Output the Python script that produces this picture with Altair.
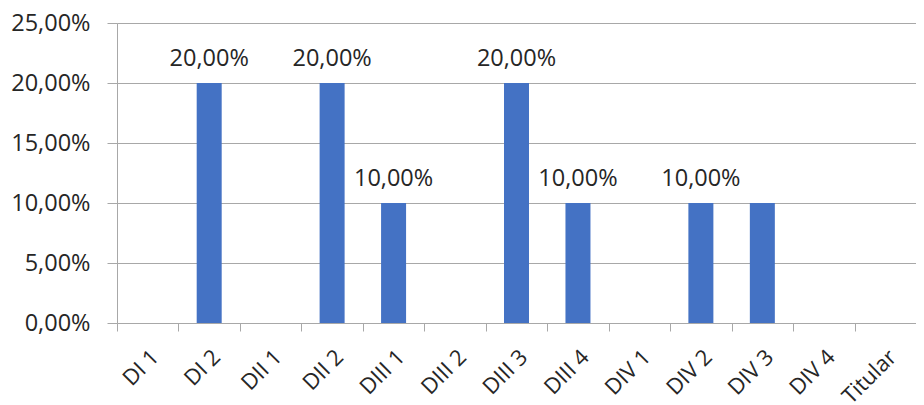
import altair as alt
import pandas as pd

categories = ["DI 1", "DI 2", "DII 1", "DII 2", "DIII 1", "DIII 2", "DIII 3",
              "DIII 4", "DIV 1", "DIV 2", "DIV 3", "DIV 4", "Titular"]
values = [0, 20, 0, 20, 10, 0, 20, 10, 0, 10, 10, 0, 0]
labels = ["", "20,00%", "", "20,00%", "10,00%", "", "20,00%",
          "10,00%", "", "10,00%", "", "", ""]
y_ticks = [0, 5, 10, 15, 20, 25]

df = pd.DataFrame({"cat": categories, "val": values, "lab": labels})

FONT = "Open Sans"
TXT = "#262626"
GRID = "#A8A8A8"

x = alt.X("cat:N", sort=categories, title=None,
          scale=alt.Scale(paddingInner=0, paddingOuter=0),
          axis=alt.Axis(labelAngle=315, labelAlign="right", labelBaseline="top",
                        labelPadding=15, labelFont=FONT, labelFontSize=22,
                        labelColor=TXT, tickBand="extent", ticks=True,
                        tickSize=8, tickColor=GRID, domain=False, grid=False,
                        labelOverlap=False, labelBound=False))
y = alt.Y("val:Q", title=None,
          scale=alt.Scale(domain=[0, 25], nice=False),
          axis=alt.Axis(values=y_ticks, grid=True, gridColor=GRID,
                        domainColor=GRID, tickColor=GRID, tickSize=10,
                        labelFont=FONT, labelFontSize=23.5, labelColor=TXT,
                        labelPadding=17,
                        labelExpr="replace(format(datum.value, '.2f'), '.', ',') + '%'"))

bars = alt.Chart(df).mark_bar(color="#4472C4", size=25).encode(x=x, y=y)
text = alt.Chart(df).mark_text(baseline="alphabetic", dy=-17, font=FONT,
                               fontSize=23.5, color=TXT).encode(
    x=alt.X("cat:N", sort=categories), y="val:Q", text="lab:N")

chart = (bars + text).properties(
    width=799, height=300,
    autosize=alt.AutoSizeParams(type="none"),
    padding={"left": 109, "top": 15, "right": 0, "bottom": 82},
).configure_view(stroke=None).configure(background="white")

chart.save("out.html", embed_options={"renderer": "svg", "actions": False})
